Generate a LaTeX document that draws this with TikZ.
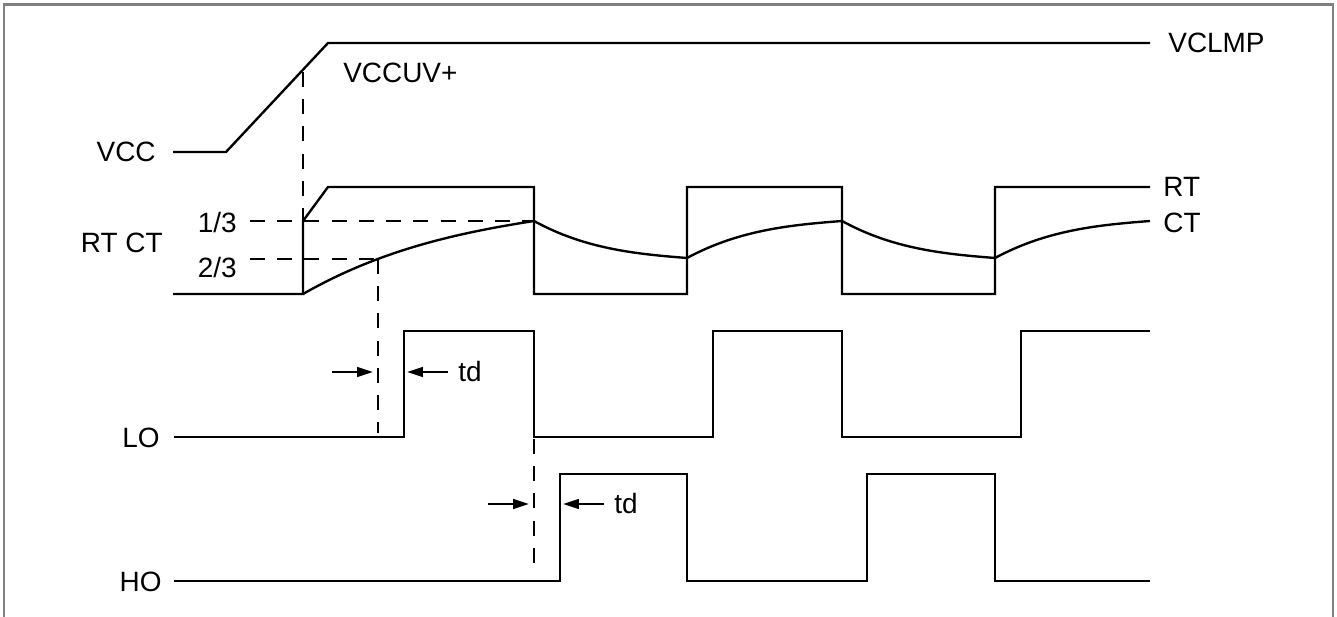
\documentclass[tikz,border=0pt]{standalone}
\usepackage{fontspec}
\setmainfont{Liberation Sans}
\usepackage{tikz}
\usetikzlibrary{arrows.meta, positioning}
\definecolor{FrameGray}{RGB}{128, 128, 128}

\tikzset{
  wave/.style={line width=1.35pt, black, line join=miter},
  guide/.style={line width=1.3pt, dash pattern=on 8.5pt off 7pt},
  tdarrow/.style={-{Triangle[length=9pt, width=5.5pt]}, line width=1.3pt},
  lbl/.style={font=\fontsize{15.9}{19}\selectfont, inner sep=0pt}
}

\begin{document}
\begin{tikzpicture}[x=0.02cm, y=-0.02cm]
        \useasboundingbox (0,0) rectangle (1337,617);
        % Frame
        \draw[FrameGray, line width=1.4pt] (4,617) -- (4,4.5) -- (1333,4.5) -- (1333,617);

        % VCC
        \node[lbl, anchor=east] (vcc) at (156,152) {VCC};
        \node[lbl, anchor=west] (vclmp) at (1168,43) {VCLMP};
        \node[lbl, anchor=west] (vccuv) at (343,73) {VCCUV+};
        \draw[wave] (173,152) -- (226,152) -- (328,43) -- (1150,43);

        % RT CT
        \node[lbl, anchor=east] (rtct) at (163,243) {RT CT};
        \node[lbl, anchor=east] (third) at (237,223) {1/3};
        \node[lbl, anchor=east] (twothird) at (237,268) {2/3};
        \node[lbl, anchor=west] (rt) at (1163,187) {RT};
        \node[lbl, anchor=west] (ct) at (1163,223) {CT};
        \draw[wave] (173,294) -- (303,294) -- (303,221) -- (328,187) -- (534,187)
            -- (534,294) -- (687,294) -- (687,187) -- (842,187)
            -- (842,294) -- (995,294) -- (995,187) -- (1150,187);
        \draw[wave] (303,294) .. controls (380,250) and (457,233) .. (534,221)
            .. controls (585,249) and (636,254) .. (687,258)
            .. controls (739,230) and (790,225) .. (842,221)
            .. controls (893,249) and (944,254) .. (995,258)
            .. controls (1047,230) and (1098,225) .. (1150,221);

        % LO HO
        \node[lbl, anchor=east] (lo) at (160,438) {LO};
        \node[lbl, anchor=east] (ho) at (162,582) {HO};
        \draw[wave] (174,437) -- (404,437) -- (404,331) -- (534,331)
            -- (534,437) -- (713,437) -- (713,331) -- (842,331)
            -- (842,437) -- (1021,437) -- (1021,331) -- (1150,331);
        \draw[wave] (174,581) -- (560,581) -- (560,474) -- (687,474)
            -- (687,581) -- (867,581) -- (867,474) -- (995,474)
            -- (995,581) -- (1150,581);

        % Thresholds
        \coordinate (uv) at (303,72);
        \coordinate (rtstart) at (303,221);
        \coordinate (ctpeak) at (534,221);
        \coordinate (ctcross) at (378,259);
        \draw[guide] (uv) -- (rtstart);
        \draw[guide] (250,221) -- (ctpeak);
        \draw[guide] (250,259) -- (ctcross);
        \draw[guide] (ctcross) -- (378,433);
        \draw[guide] (534,439) -- (534,570);

        % Dead time
        \foreach \y/\xa/\xb/\name in {372/378/404/tdlo, 504/534/560/tdho} {
            \draw[tdarrow] (\xa-46,\y) -- (\xa-5,\y);
            \draw[tdarrow] (\xb+44,\y) -- (\xb+3,\y);
            \node[lbl, anchor=west] (\name) at (\xb+54,\y) {td};
        }
    \end{tikzpicture}
\end{document}
